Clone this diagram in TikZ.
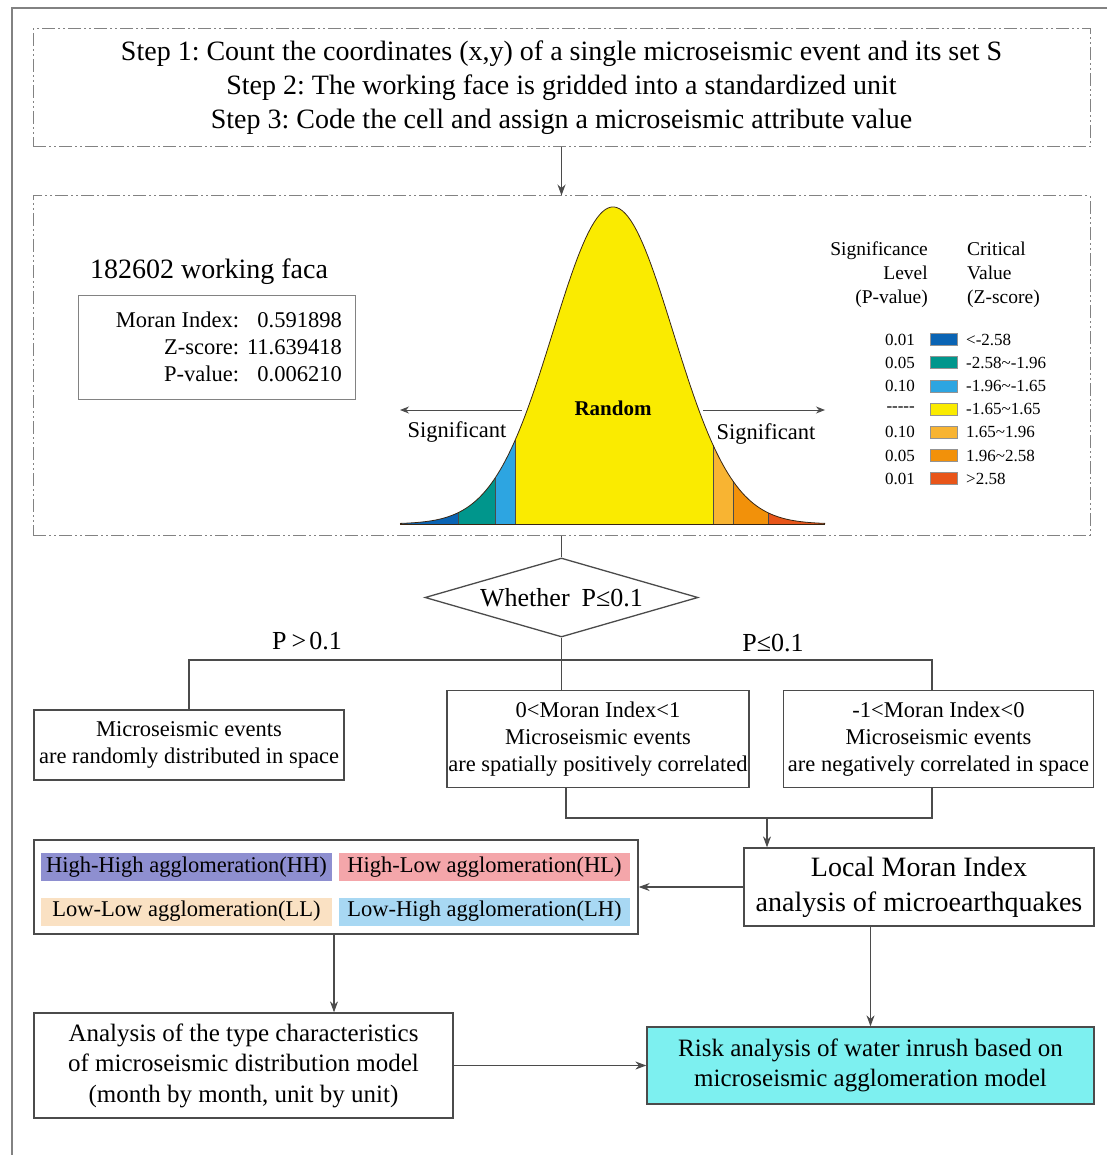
\documentclass[tikz,border=0pt]{standalone}
\usepackage{fontspec}
\setmainfont{Liberation Serif}
\usetikzlibrary{shapes.geometric,arrows.meta,positioning}
\definecolor{framegray}{RGB}{130,130,130}
\definecolor{linegray}{RGB}{75,75,75}
\definecolor{zdark}{RGB}{10,100,180}
\definecolor{zteal}{RGB}{0,150,140}
\definecolor{zlblue}{RGB}{45,165,225}
\definecolor{zyellow}{RGB}{250,235,0}
\definecolor{zlorange}{RGB}{248,180,50}
\definecolor{zorange}{RGB}{242,145,10}
\definecolor{zred}{RGB}{232,85,25}
\definecolor{hhcol}{RGB}{142,143,208}
\definecolor{hlcol}{RGB}{244,166,170}
\definecolor{llcol}{RGB}{250,225,195}
\definecolor{lhcol}{RGB}{168,216,243}
\definecolor{riskcol}{RGB}{125,240,240}
\newcommand{\fsz}[2]{\fontsize{#1}{#2}\selectfont}
\frenchspacing

\tikzset{
    dashbox/.style={draw=framegray, line width=1pt,
        dash pattern=on 13pt off 3pt on 2pt off 3pt on 2pt off 3pt},
    plainbox/.style={draw=linegray, line width=1.3pt, align=center, inner sep=0pt},
    cellbox/.style={minimum width=291pt, minimum height=28pt, inner sep=0pt, font=\fsz{22.5}{24}},
    swatch/.style={draw=linegray!60, line width=0.6pt, minimum width=27pt, minimum height=12pt, inner sep=0pt},
    link/.style={draw=linegray, line width=1.2pt},
    arr/.style={link, -{Stealth[length=11pt,width=8pt]}},
}

\begin{document}
\begin{tikzpicture}[x=1pt, y=-1pt]
    \useasboundingbox (0,0) rectangle (1107,1155);
    % outer frame, cut on the right and at the bottom
    \draw[framegray, line width=2pt] (1107,8) -- (12,8) -- (12,1155);

    % steps
    \node[dashbox, minimum width=1057pt, minimum height=118pt, align=center, font=\fsz{28}{34}]
        (steps) at (561.5,88) {Step 1: Count the coordinates (x,y) of a single microseismic event and its set S\\
        Step 2: The working face is gridded into a standardized unit\\
        Step 3: Code the cell and assign a microseismic attribute value};

    % global Moran panel
    \node[dashbox, minimum width=1057pt, minimum height=339pt] (bellbox) at (561.5,365.5) {};
    \draw[arr] (steps) -- (bellbox);

    \node[font=\fsz{28}{30}] (face) at (209,272) {182602 working faca};
    \node[draw=framegray, line width=1pt, minimum width=277pt, minimum height=104pt] (stats) at (216.5,347) {};
    \node[anchor=east, inner sep=0pt, font=\fsz{22.5}{27}] (statsval) at (342,349)
        {\begin{tabular}{@{}r@{\hspace{8pt}}r@{}}
        Moran Index: & 0.591898\\
        Z-score: & 11.639418\\
        P-value: & 0.006210
        \end{tabular}};

    % normal curve
    \foreach \a/\b/\c in {400/458/zdark, 458/495/zteal, 495/515/zlblue, 515/713/zyellow,
                          713/733/zlorange, 733/768/zorange, 768/825/zred}
        \fill[\c] (\a,524) -- plot[domain=\a:\b, samples=40]
            (\x,{524-317*exp(-0.5*((\x-613)/60)*((\x-613)/60))}) -- (\b,524) -- cycle;
    \foreach \a in {458,495,515,713,733,768}
        \draw[linegray, line width=0.6pt] (\a,524) -- (\a,{524-317*exp(-0.5*((\a-613)/60)*((\a-613)/60))});
    \draw[black!70!brown, line width=0.8pt] plot[domain=400:825, samples=150]
        (\x,{524-317*exp(-0.5*((\x-613)/60)*((\x-613)/60))});
    \draw[black!70!brown, line width=0.8pt] (400,524) -- (825,524);

    \draw[link, line width=1pt, -{Stealth[length=9pt,width=7pt]}] (522,410) -- (400,410);
    \draw[link, line width=1pt, -{Stealth[length=9pt,width=7pt]}] (703,410) -- (825,410);
    \node[font=\fsz{21}{24}\bfseries] (random) at (613,408) {Random};
    \node[font=\fsz{22.5}{24}] (sigleft) at (457,432) {Significant};
    \node[font=\fsz{22.5}{24}] (sigright) at (766,434) {Significant};

    % legend
    \node[anchor=east, align=right, inner sep=0pt, font=\fsz{19.5}{24}] (plevel) at (928,275)
        {Significance\\Level\\(P-value)};
    \node[anchor=west, align=left, inner sep=0pt, font=\fsz{19.5}{24}] (zlevel) at (967,275)
        {Critical\\Value\\(Z-score)};
    \foreach \p/\c/\z [count=\i] in {0.01/zdark/{<-2.58}, 0.05/zteal/{-2.58\textasciitilde-1.96},
            0.10/zlblue/{-1.96\textasciitilde-1.65}, {-{}-{}-{}-{}-}/zyellow/{-1.65\textasciitilde1.65},
            0.10/zlorange/{1.65\textasciitilde1.96}, 0.05/zorange/{1.96\textasciitilde2.58}, 0.01/zred/{>2.58}} {
        \node[swatch, fill=\c] (sw\i) at (943.5,{339.5+23.2*(\i-1)}) {};
        \node[anchor=east, inner sep=0pt, font=\fsz{17}{20}] (pv\i) at (915,{339.5+23.2*(\i-1)}) {\p};
        \node[anchor=west, inner sep=0pt, font=\fsz{17}{20}] (zv\i) at (966,{339.5+23.2*(\i-1)}) {\z};
    }

    % decision
    \node[draw=linegray, line width=1.3pt, shape=diamond, aspect=3.46, minimum width=273pt, minimum height=79pt,
        inner sep=0pt, font=\fsz{26}{28}] (dia) at (561.5,597.5) {Whether\hspace{12pt}P≤0.1};
    \draw[link] (bellbox) -- (dia);
    \coordinate (split) at (561.5,660);

    \node[plainbox, minimum width=310pt, minimum height=70pt, font=\fsz{22.5}{27}] (randbox) at (189,745)
        {Microseismic events\\are randomly distributed in space};
    \node[plainbox, minimum width=302pt, minimum height=97pt, font=\fsz{22.5}{27}] (posbox) at (598,739)
        {0<Moran Index<1\\Microseismic events\\are spatially positively correlated};
    \node[plainbox, minimum width=310pt, minimum height=97pt, font=\fsz{22.5}{27}] (negbox) at (938.5,739)
        {-1<Moran Index<0\\Microseismic events\\are negatively correlated in space};

    \draw[link] (randbox.north) |- (split) -| ([xshift=-6.5pt]negbox.north);
    \draw[link] (dia.south) -- (dia.south |- posbox.north);
    \node[font=\fsz{26}{28}] (pbig) at (307,641) {P\kern5pt>\kern3pt0.1};
    \node[font=\fsz{26}{28}] (psmall) at (773,643) {P≤0.1};

    % local Moran
    \node[plainbox, minimum width=350pt, minimum height=78pt, font=\fsz{28}{35}] (local) at (919,887)
        {Local Moran Index\\analysis of microearthquakes};
    \coordinate (merge) at (767,818);
    \draw[link] ([xshift=-32pt]posbox.south) |- (merge) -| ([xshift=-6.5pt]negbox.south);
    \draw[arr] (merge) -- (merge |- local.north);

    \node[plainbox, minimum width=604pt, minimum height=94pt] (agglom) at (336,887) {};
    \node[cellbox, fill=hhcol] (hh) at (186.5,867) {High-High agglomeration(HH)};
    \node[cellbox, fill=hlcol] (hl) at (484.5,867) {High-Low agglomeration(HL)};
    \node[cellbox, fill=llcol] (ll) at (186.5,911.5) {Low-Low agglomeration(LL)};
    \node[cellbox, fill=lhcol] (lh) at (484.5,911.5) {Low-High agglomeration(LH)};
    \draw[arr] (local) -- (agglom);

    % results
    \node[plainbox, minimum width=419pt, minimum height=105pt, font=\fsz{25}{30.5}] (anbox) at (243.5,1065.5)
        {Analysis of the type characteristics\\of microseismic distribution model\\(month by month, unit by unit)};
    \node[plainbox, fill=riskcol, minimum width=447pt, minimum height=77pt, font=\fsz{25}{30}] (risk) at (870.5,1065.5)
        {Risk analysis of water inrush based on\\microseismic agglomeration model};
    \draw[arr] ([xshift=-2pt]agglom.south) -- ([xshift=-2pt]agglom.south |- anbox.north);
    \draw[arr] (local.south -| risk.north) -- (risk.north);
    \draw[arr] (anbox) -- (risk);
\end{tikzpicture}
\end{document}
